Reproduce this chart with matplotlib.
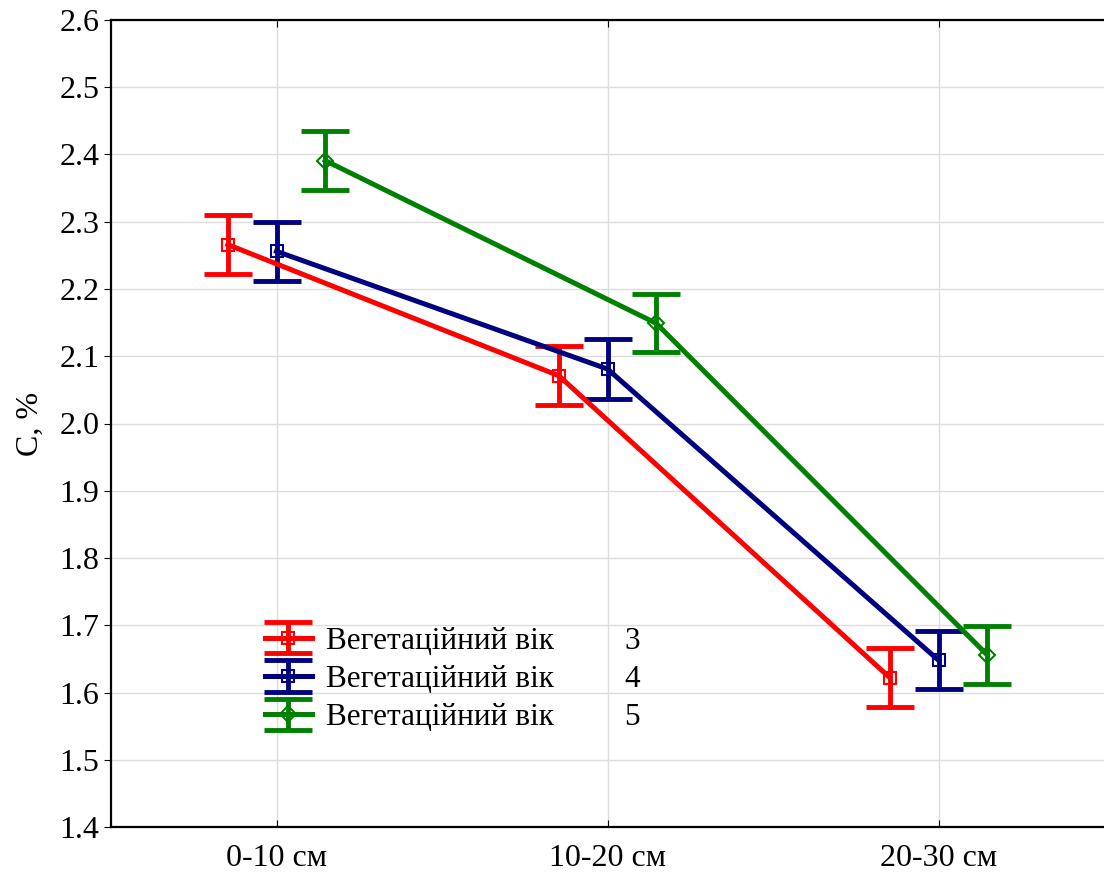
import numpy as np
import matplotlib; matplotlib.use("Agg")
import matplotlib.pyplot as plt

plt.rcParams.update({"font.family": ["Liberation Serif", "DejaVu Serif"], "font.size": 23,
                     "lines.markeredgewidth": 1.5})

depths = ["0-10 см", "10-20 см", "20-30 см"]
ages = ["3", "4", "5"]
mean3 = [2.266, 2.071, 1.622]
mean4 = [2.256, 2.081, 1.648]
mean5 = [2.391, 2.149, 1.656]
err3 = [0.044, 0.044, 0.044]
err4 = [0.044, 0.044, 0.043]
err5 = [0.044, 0.043, 0.043]
colors = ["#ff0000", "#000080", "#008000"]
markers = ["s", "s", "D"]
offsets = [-0.147, 0.0, 0.147]

fig = plt.figure(figsize=(11.04, 8.73), dpi=100)
ax = fig.add_axes([111/1104, 46/873, 993/1104, 807/873])
x = np.arange(len(depths))
for m, e, c, mk, off in zip([mean3, mean4, mean5], [err3, err4, err5], colors, markers, offsets):
    ax.errorbar(x + off, m, yerr=e, color=c, lw=3.6, marker=mk, ms=8, mfc="none",
                mec=c, elinewidth=3.5, capsize=17, capthick=3.5,
                label="Вегетаційний вік", zorder=3)

ax.set_xlim(-0.5, 2.5)
ax.set_ylim(1.4, 2.6)
ax.set_yticks(np.arange(1.4, 2.61, 0.1))
ax.set_yticklabels([f"{v:.1f}" for v in np.arange(1.4, 2.61, 0.1)])
ax.set_xticks(x)
ax.set_xticklabels(depths)
ax.tick_params(axis="x", direction="in", top=True, length=5, pad=12)
ax.tick_params(axis="y", direction="out", length=5)
ax.grid(True, color="#dddddd", lw=1)
ax.set_axisbelow(True)
ax.spines["right"].set_visible(False)
for s in ["left", "bottom", "top"]:
    ax.spines[s].set_linewidth(1.6)
ax.set_ylabel("C, %", labelpad=10)

leg = ax.legend(loc="lower left", bbox_to_anchor=(0.139, 0.098), frameon=False,
                handlelength=1.5, handletextpad=0.47, labelspacing=0.3, borderpad=0,
                fontsize=22.5)
fig.canvas.draw()
inv = ax.transAxes.inverted()
for t, a in zip(leg.get_texts(), ages):
    bb = t.get_window_extent()
    yc = (bb.y0 + bb.y1) / 2
    xa, ya = inv.transform(((111 + 521), yc))
    ax.text(xa, ya, a, transform=ax.transAxes, ha="center", va="center", fontsize=22.5)

fig.savefig("out.png", dpi=100)
